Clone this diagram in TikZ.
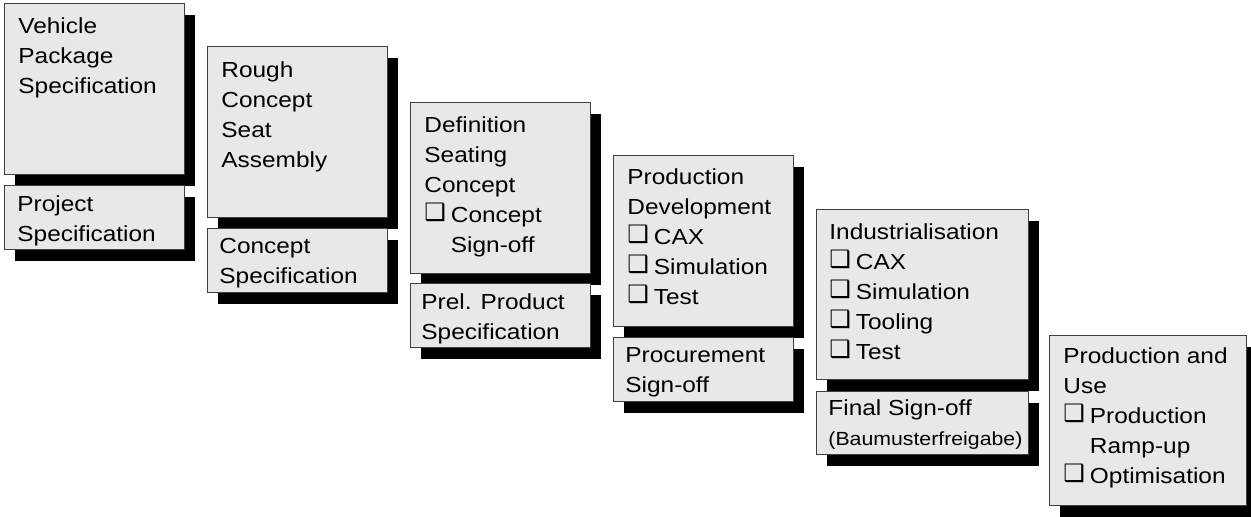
\documentclass[tikz,border=0pt]{standalone}
\usepackage{fontspec}
\setmainfont{Liberation Sans}[FakeStretch=1.12]
\newfontfamily\symfont{DejaVu Sans}
\usetikzlibrary{shadows}
\newcommand\chk{\raisebox{1pt}{\symfont\fontsize{12}{15}\selectfont ❑}\hspace{2.5pt}}
\newcommand\chkind{\hphantom{\chk}}
\begin{document}
\begin{tikzpicture}[x=0.5pt, y=-0.5pt,
  phase/.style={draw=black!75, line width=0.6pt, fill=black!9, anchor=north west,
    inner sep=0pt, minimum width=90pt,
    drop shadow={shadow xshift=5.25pt, shadow yshift=-5.75pt, fill=black, opacity=1}},
  big/.style={phase, minimum height=85.5pt},
  small/.style={phase, minimum height=32pt},
  txt/.style={anchor=north west, inner sep=0pt, align=left, font=\fontsize{10.9}{15}\selectfont}]
\useasboundingbox (0,0) rectangle (1251,517);
\node[big] (vehpkg) at (4,3){};
\node[txt] (vehpkgtxt) at (18,17){Vehicle\\Package\\Specification};
\node[small] (projspec) at (4,185){};
\node[txt] (projspectxt) at (17,195){Project\\Specification};
\node[big] (rough) at (207,46){};
\node[txt] (roughtxt) at (221,61){Rough\\Concept\\Seat\\Assembly};
\node[small] (conspec) at (207,228){};
\node[txt] (conspectxt) at (219,238){Concept\\Specification};
\node[big] (defn) at (410,102){};
\node[txt] (defntxt) at (424,116){Definition\\Seating\\Concept\\\chk Concept\\\chkind Sign-off};
\node[small] (prelspec) at (410,283){};
\node[txt] (prelspectxt) at (421,293){Prel. Product\\Specification};
\node[big] (proddev) at (613,155){};
\node[txt] (proddevtxt) at (627,168){Production\\Development\\\chk CAX\\\chk Simulation\\\chk Test};
\node[small] (procure) at (613,337){};
\node[txt] (procuretxt) at (625,347){Procurement\\Sign-off};
\node[big, minimum width=106pt, minimum height=85pt] (indus) at (816,209){};
\node[txt] (industxt) at (829,223){Industrialisation\\\chk CAX\\\chk Simulation\\\chk Tooling\\\chk Test};
\node[small, minimum width=106pt, minimum height=31.5pt] (final) at (816,391){};
\node[txt] (finaltxt) at (828,399){Final Sign-off\\{\fontsize{9.5}{15}\selectfont(Baumusterfreigabe)}};
\node[big, minimum width=98.5pt, minimum height=85pt] (produse) at (1049,335){};
\node[txt] (produsetxt) at (1063,347){Production and\\Use\\\chk Production\\\chkind Ramp-up\\\chk Optimisation};
\end{tikzpicture}
\end{document}
